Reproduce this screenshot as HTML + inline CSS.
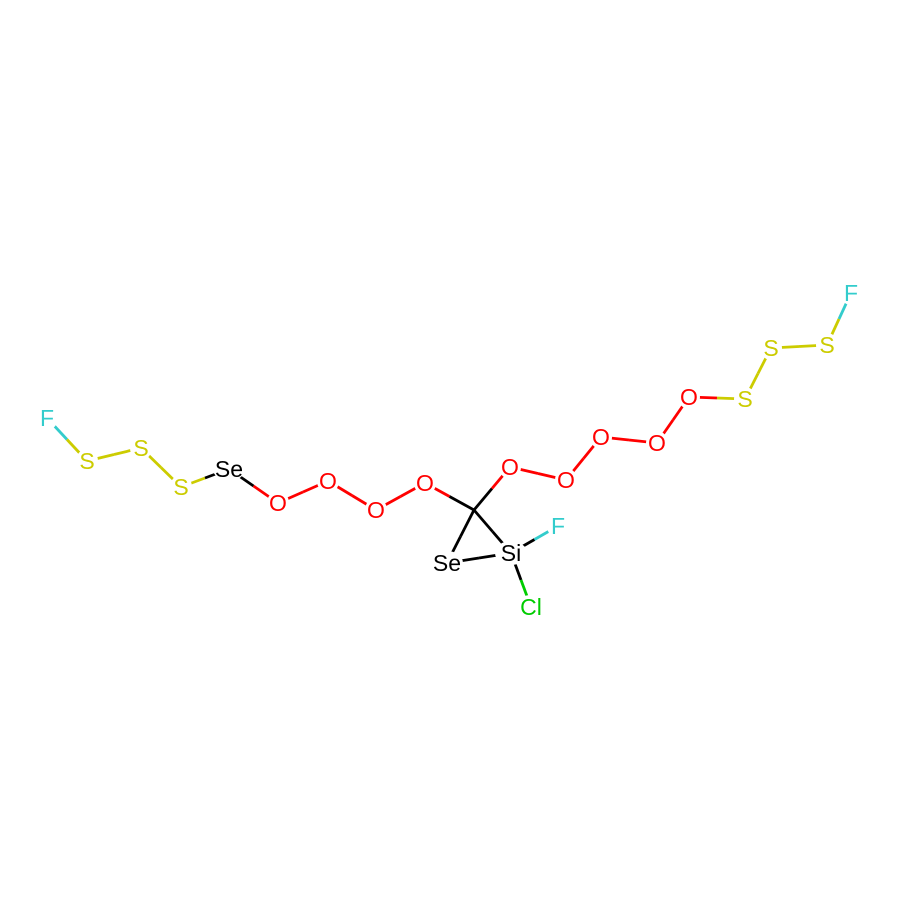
<!DOCTYPE html>
<html><head><meta charset="utf-8"><style>
body{margin:0;background:#fff}
text{font-family:"Liberation Sans","DejaVu Sans",sans-serif;font-size:23px;text-anchor:middle;dominant-baseline:central}
</style></head><body>
<svg id="mol" width="900" height="900" viewBox="0 0 900 900"></svg>
<script>
const atomLabels=["F","S","S","S","Se","O","O","O","O","C","O","O","O","O","O","S","S","S","F","Se","Si","F","Cl"];
const atomX=[47,87,141,181,229,278,328,376,425,474,510,566,601,657,689,745,771,827,851,447,511,558,531];
const atomY=[418,461,448,487,469,503,481,510,483,510,467,480,437,443,397,399,348,345,293,563,553,526,607];
const bondPairs=[[0,1],[1,2],[2,3],[3,4],[4,5],[5,6],[6,7],[7,8],[8,9],[9,10],[10,11],[11,12],[12,13],[13,14],[14,15],[15,16],[16,17],[17,18],[9,19],[9,20],[19,20],[20,21],[20,22]];
const col={F:"#33CCCC",S:"#CCCC00",Se:"#000000",O:"#FF0000",C:"#000000",Si:"#000000",Cl:"#00CC00"};
const svg=document.getElementById('mol');const NS="http://www.w3.org/2000/svg";
bondPairs.forEach(([a,b],i)=>{
  const mx=(atomX[a]+atomX[b])/2,my=(atomY[a]+atomY[b])/2;
  [[a,mx,my],[b,mx,my]].forEach(([k,x2,y2],j)=>{
    const l=document.createElementNS(NS,'line');
    
    
    l.setAttribute('x1',atomX[k]);l.setAttribute('y1',atomY[k]);l.setAttribute('x2',x2);l.setAttribute('y2',y2);
    l.setAttribute('stroke',col[atomLabels[k]]);l.setAttribute('stroke-width','2.8');
    svg.appendChild(l);
  });
});
atomLabels.forEach((s,i)=>{
  if(s==="C")return;
  const bg=document.createElementNS(NS,'ellipse');
  
  
  bg.setAttribute('cx',atomX[i]);bg.setAttribute('cy',atomY[i]);
  bg.setAttribute('rx',s.length>1?16:11);bg.setAttribute('ry',12);bg.setAttribute('fill','#fff');
  svg.appendChild(bg);
  const t=document.createElementNS(NS,'text');
  
  
  t.setAttribute('x',atomX[i]);t.setAttribute('y',atomY[i]);t.setAttribute('fill',col[s]);
  t.textContent=s;svg.appendChild(t);
});
</script>
</body></html>
